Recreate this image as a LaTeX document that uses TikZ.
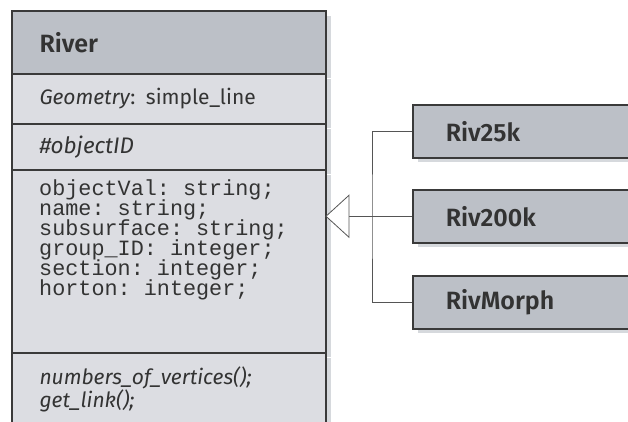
\documentclass[tikz,border=0pt]{standalone}
\usepackage{fontspec}
\setmainfont{Fira Sans}[BoldFont={Fira Sans SemiBold}]
\setmonofont{Liberation Mono}
\usetikzlibrary{positioning,shadows}

\definecolor{hdrgray}{HTML}{BCC0C7}
\definecolor{bodygray}{HTML}{DCDDE2}
\definecolor{edgegray}{HTML}{3A3A3A}
\definecolor{linkgray}{HTML}{555555}
\definecolor{txtgray}{HTML}{333333}
\definecolor{shadegray}{HTML}{D6D9DD}

\begin{document}
\lineskiplimit=-30pt
\begin{tikzpicture}[x=1pt, y=-1pt,
  every node/.style={text=txtgray},
  shade/.style={drop shadow={shadow xshift=5pt, shadow yshift=-4pt, fill=shadegray, opacity=1}},
  comp/.style={draw=edgegray, line width=1pt, fill=bodygray, shade, anchor=north west,
    minimum width=313pt, inner xsep=27pt, inner ysep=0pt, text width=259pt, align=left,
    font=\fontsize{21}{24}\selectfont},
  hdr/.style={comp, fill=hdrgray, font=\fontsize{25}{28}\selectfont\bfseries},
  sub/.style={draw=edgegray, line width=1.5pt, fill=hdrgray, shade, anchor=north west,
    minimum width=240pt, minimum height=53pt, inner xsep=33pt, inner ysep=0pt,
    text width=174pt, align=left, font=\fontsize{25}{28}\selectfont\bfseries},
  mono/.style={anchor=north west, inner sep=0pt, align=left,
    font=\fontsize{21.8}{20}\ttfamily\selectfont},
  link/.style={draw=linkgray, line width=0.8pt}
]
\useasboundingbox (0,0) rectangle (628,421);
\clip (0,0) rectangle (628,421);

% class River
\node[hdr, minimum height=62pt] (hd) at (12,11) {River};
\node[comp, minimum height=49pt] (geom) at (hd.south west) {\textit{Geometry}: simple\_line};
\node[comp, minimum height=45pt, font=\fontsize{22.5}{24}\selectfont\itshape] (oid) at (geom.south west) {\#objectID};
\node[comp, minimum height=182pt] (attr) at (oid.south west) {};
\node[comp, minimum height=72pt, font=\fontsize{21}{20}\selectfont\itshape] (meth) at (attr.south west)
  {numbers\_of\_vertices();\\get\_link();};
\draw[edgegray, line width=1.6pt] (hd.north west) rectangle (meth.south east);
\node[mono] (attrtxt) at (39,179)
  {objectVal: string;\\name: string;\\subsurface: string;\\group\_ID: integer;\\section: integer;\\horton: integer;};

% subclasses
\node[sub] (r25) at (412,104) {Riv25k};
\node[sub] (r200) at (412,189) {Riv200k};
\node[sub] (rmorph) at (412,275) {RivMorph};

% generalisation
\coordinate (tip) at (attr.east |- r200.west);
\coordinate (tribase) at ([xshift=23pt]tip);
\coordinate (jn) at ([xshift=46pt]tip);
\draw[link] (r25.west) -| (jn) |- (rmorph.west);
\draw[link] (tribase) -- (r200.west);
\draw[link, fill=white] (tip) -- ([yshift=21pt]tribase) -- ([yshift=-21pt]tribase) -- cycle;
\end{tikzpicture}
\end{document}
